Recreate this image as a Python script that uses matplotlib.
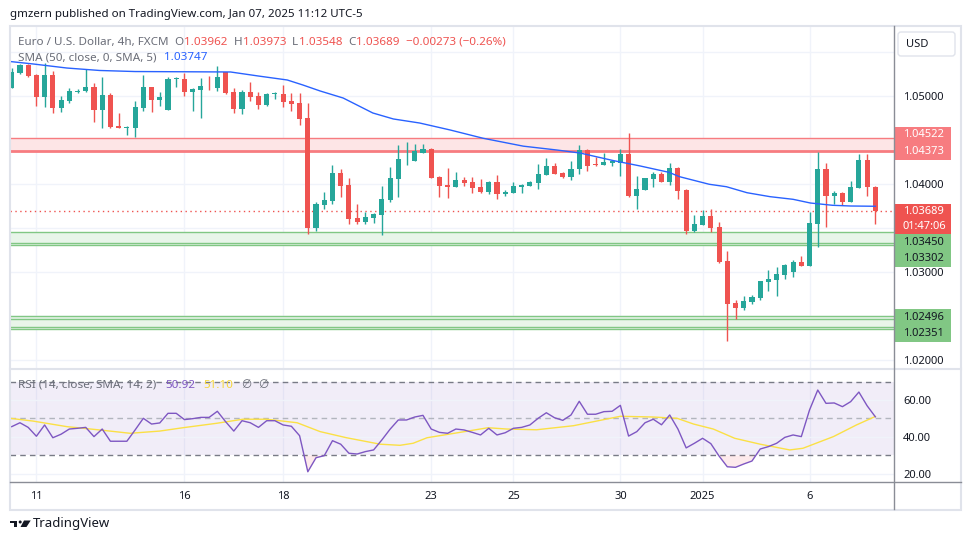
import numpy as np
import matplotlib.pyplot as plt
from matplotlib.patches import Rectangle, FancyBboxPatch, Polygon, Circle

plt.rcParams['font.family'] = ['Noto Sans', 'DejaVu Sans']

# EUR/USD 4h candles, Dec 11 2024 -> Jan 7 2025
opens = [
    1.05094, 1.05258, 1.05352, 1.05239, 1.04992, 1.05239, 1.04867, 1.04943, 1.05051, 1.05060,
    1.05099, 1.04841, 1.05011, 1.04659, 1.04640, 1.04640, 1.04864, 1.05099, 1.04955, 1.04841,
    1.05190, 1.05193, 1.05049, 1.05068, 1.05114, 1.05088, 1.05269, 1.05042, 1.04852, 1.05042,
    1.05000, 1.04898, 1.05019, 1.05023, 1.04943, 1.04920, 1.04750, 1.03503, 1.03765, 1.03810,
    1.04122, 1.03985, 1.03614, 1.03572, 1.03617, 1.03651, 1.03818, 1.04060, 1.04290, 1.04265,
    1.04356, 1.04394, 1.04080, 1.03989, 1.03969, 1.04045, 1.04023, 1.03962, 1.03912, 1.04023,
    1.03883, 1.03901, 1.03969, 1.03981, 1.04015, 1.04102, 1.04205, 1.04128, 1.04083, 1.04167,
    1.04386, 1.04219, 1.04219, 1.04244, 1.04235, 1.04341, 1.03864, 1.03935, 1.04057, 1.04114,
    1.04026, 1.04182, 1.03932, 1.03466, 1.03537, 1.03636, 1.03511, 1.03125, 1.02648, 1.02594,
    1.02662, 1.02708, 1.02890, 1.02912, 1.02969, 1.03003, 1.03114, 1.03072, 1.03549, 1.04170,
    1.03867, 1.03898, 1.03799, 1.03958, 1.04273, 1.03962]
highs = [
    1.05315, 1.05364, 1.05364, 1.05250, 1.05378, 1.05288, 1.05000, 1.05088, 1.05076, 1.05303,
    1.05151, 1.05219, 1.05031, 1.04810, 1.04659, 1.04943, 1.05239, 1.05102, 1.05042, 1.05213,
    1.05213, 1.05258, 1.05091, 1.05208, 1.05231, 1.05341, 1.05273, 1.05088, 1.05068, 1.05156,
    1.05042, 1.05031, 1.05049, 1.05125, 1.05031, 1.05031, 1.04920, 1.03799, 1.03909, 1.04216,
    1.04167, 1.04065, 1.03773, 1.03685, 1.03665, 1.03977, 1.04190, 1.04443, 1.04477, 1.04455,
    1.04455, 1.04412, 1.04091, 1.04178, 1.04136, 1.04080, 1.04080, 1.04057, 1.04034, 1.04102,
    1.03928, 1.04023, 1.03997, 1.04034, 1.04227, 1.04295, 1.04239, 1.04140, 1.04261, 1.04447,
    1.04394, 1.04307, 1.04352, 1.04273, 1.04398, 1.04580, 1.04091, 1.04068, 1.04133, 1.04140,
    1.04242, 1.04197, 1.03943, 1.03648, 1.03705, 1.03716, 1.03568, 1.03239, 1.02682, 1.02731,
    1.02739, 1.02800, 1.03023, 1.03057, 1.03091, 1.03136, 1.03182, 1.03682, 1.04360, 1.04239,
    1.03920, 1.03912, 1.04034, 1.04341, 1.04341, 1.03973]
lows = [
    1.05088, 1.05250, 1.05213, 1.04886, 1.04878, 1.04810, 1.04822, 1.04917, 1.05031, 1.05042,
    1.04701, 1.04640, 1.04633, 1.04636, 1.04560, 1.04534, 1.04826, 1.04822, 1.04890, 1.04841,
    1.05106, 1.05000, 1.04830, 1.04753, 1.05068, 1.05060, 1.05019, 1.04810, 1.04799, 1.04947,
    1.04852, 1.04886, 1.04962, 1.04878, 1.04830, 1.04670, 1.03432, 1.03469, 1.03719, 1.03776,
    1.03856, 1.03545, 1.03545, 1.03545, 1.03560, 1.03424, 1.03799, 1.03856, 1.04219, 1.04265,
    1.04356, 1.04072, 1.03856, 1.03844, 1.03969, 1.03981, 1.03894, 1.03901, 1.03890, 1.03833,
    1.03867, 1.03901, 1.03901, 1.03977, 1.03947, 1.04102, 1.04114, 1.04068, 1.04045, 1.04114,
    1.04151, 1.04208, 1.04219, 1.04208, 1.04094, 1.03852, 1.03719, 1.03935, 1.03969, 1.04023,
    1.03989, 1.03830, 1.03435, 1.03455, 1.03537, 1.03455, 1.03106, 1.02219, 1.02466, 1.02571,
    1.02640, 1.02685, 1.02787, 1.02731, 1.02924, 1.02947, 1.03072, 1.03072, 1.03287, 1.03515,
    1.03776, 1.03765, 1.03799, 1.03958, 1.03867, 1.03548]
closes = [
    1.05276, 1.05352, 1.05231, 1.04992, 1.05239, 1.04867, 1.04951, 1.05057, 1.05057, 1.05099,
    1.04841, 1.05011, 1.04644, 1.04640, 1.04644, 1.04872, 1.05099, 1.04955, 1.04985, 1.05193,
    1.05193, 1.05049, 1.05080, 1.05117, 1.05108, 1.05213, 1.05031, 1.04852, 1.05042, 1.04992,
    1.04901, 1.05023, 1.05023, 1.04935, 1.04912, 1.04739, 1.03503, 1.03773, 1.03818, 1.04122,
    1.03981, 1.03606, 1.03568, 1.03625, 1.03659, 1.03829, 1.04068, 1.04284, 1.04292, 1.04372,
    1.04394, 1.04072, 1.03981, 1.03969, 1.04045, 1.04014, 1.03958, 1.03912, 1.04023, 1.03883,
    1.03909, 1.03977, 1.03989, 1.04023, 1.04114, 1.04205, 1.04114, 1.04083, 1.04170, 1.04386,
    1.04205, 1.04212, 1.04253, 1.04256, 1.04341, 1.03864, 1.03943, 1.04068, 1.04110, 1.04023,
    1.04182, 1.03920, 1.03469, 1.03545, 1.03636, 1.03503, 1.03114, 1.02640, 1.02594, 1.02670,
    1.02716, 1.02898, 1.02920, 1.02977, 1.03080, 1.03114, 1.03072, 1.03557, 1.04170, 1.03867,
    1.03898, 1.03799, 1.03966, 1.04273, 1.03962, 1.03689]

# SMA(50) read at a few candle positions
sma_idx = [-0.2, 2.6, 6.7, 10.7, 15.0, 26.6, 30.0, 33.5, 35.4, 37.5, 40.3, 43.9, 46.4, 49.6,
           53.3, 57.3, 62.2, 66.3, 69.1, 73.1, 76.4, 79.9, 81.2, 84.8, 86.9, 89.4, 92.2, 95.0,
           97.1, 99.8, 102.0, 105]
sma_val = [1.05392, 1.05364, 1.05318, 1.05290, 1.05278, 1.05273, 1.05227, 1.05182, 1.05125,
           1.05057, 1.04977, 1.04807, 1.04739, 1.04693, 1.04614, 1.04520, 1.04430, 1.04386,
           1.04352, 1.04267, 1.04205, 1.04133, 1.04083, 1.03997, 1.03969, 1.03901, 1.03856,
           1.03826, 1.03784, 1.03758, 1.03750, 1.03747]

rsi = [
    45.6, 47.7, 45.2, 40.4, 46.5, 39.6, 41.5, 44.3, 44.7, 45.2,
    40.2, 44.3, 37.7, 37.7, 37.7, 43.8, 50.1, 47.0, 47.6, 52.8,
    52.8, 49.4, 49.9, 50.6, 50.6, 53.9, 48.3, 43.2, 48.8, 47.7,
    45.2, 48.8, 48.8, 46.5, 45.8, 40.7, 21.2, 28.8, 29.9, 38.0,
    36.1, 31.2, 30.8, 32.1, 33.0, 38.4, 44.2, 49.2, 49.2, 50.8,
    51.7, 44.3, 42.5, 42.0, 44.3, 43.8, 42.5, 41.1, 44.7, 41.1,
    42.3, 44.7, 45.2, 46.5, 50.1, 53.1, 50.4, 49.0, 51.9, 59.3,
    52.3, 52.3, 53.7, 53.9, 57.1, 40.5, 42.9, 47.7, 49.6, 46.6,
    51.9, 44.3, 34.1, 36.6, 39.3, 36.4, 29.7, 23.9, 23.6, 25.4,
    27.0, 33.5, 34.8, 36.6, 39.8, 41.1, 40.2, 54.6, 65.4, 58.2,
    58.4, 56.4, 59.1, 64.3, 56.9, 50.92]

rsi_sma_idx = [-0.2, 2.6, 6.7, 10.7, 14.4, 18.0, 20.8, 24.9, 28.1, 31.0, 34.7, 37.5, 40.7,
               44.8, 47.2, 48.8, 50.5, 54.5, 57.9, 60.2, 63.8, 68.3, 71.1, 74.0, 78.0, 80.9,
               82.9, 85.3, 87.9, 91.0, 94.6, 96.2, 99.9, 102.7, 105]
rsi_sma_val = [50.1, 48.6, 45.6, 43.8, 42.0, 43.2, 45.0, 47.4, 49.6, 49.6, 47.7, 42.9, 39.6,
               36.1, 35.5, 36.6, 39.6, 42.5, 45.0, 44.3, 43.9, 46.1, 48.6, 51.2, 50.8, 50.1,
               47.0, 44.3, 39.3, 36.1, 33.0, 33.9, 40.2, 46.5, 51.10]

day_ticks = [3, 21, 33, 51, 61, 74, 84, 97]
day_labels = ['11', '16', '18', '23', '25', '30', '2025', '6']
price_ticks = [1.02, 1.03, 1.04, 1.05]
rsi_ticks = [20, 40, 60]

# drawn zones (top, bottom) + the extra edge lines of the stacked boxes
zones = [(1.04522, 1.04373), (1.03450, 1.03302), (1.02496, 1.02351)]
zone_inner = [1.03326, 1.02465, 1.02370]
countdown = '01:47:06'

GREEN = '#26a69a'
RED = '#ef5350'
TXT = '#131722'
GRAY = '#6a6d78'
GRID = '#f0f3fa'

W, H = 970, 545
fig = plt.figure(figsize=(W / 100, H / 100), dpi=100)


def box(l, t, r, b):
    return [l / W, 1 - b / H, (r - l) / W, (b - t) / H]


ax = fig.add_axes(box(10, 26, 894, 369.3))
ax_rsi = fig.add_axes(box(10, 369.3, 894, 482.3), sharex=ax)
over = fig.add_axes([0, 0, 1, 1], zorder=10)
over.set_xlim(0, W)
over.set_ylim(H, 0)
over.axis('off')
over.patch.set_alpha(0)

o = np.array(opens)
h = np.array(highs)
l = np.array(lows)
c = np.array(closes)
x = np.arange(len(c))

# ---------------- price pane
ax.set_xlim(-0.21, 107.27)
ax.set_ylim(1.018943, 1.057955)
for p in np.arange(1.020, 1.0551, 0.005):
    ax.axhline(p, color=GRID, lw=1, zorder=0)
for t in day_ticks:
    ax.axvline(t, color=GRID, lw=1, zorder=0)
    ax_rsi.axvline(t, color=GRID, lw=1, zorder=0)

zone_line = ['#f77c80', '#81c784', '#81c784']
zone_fill = ['#fde5e6', '#e8f5e9', '#e8f5e9']
for (top, bot), lc, fc in zip(zones, zone_line, zone_fill):
    ax.axhspan(bot, top, color=fc, lw=0, zorder=1)
    ax.axhline(top, color=lc, lw=1, zorder=2)
    ax.axhline(bot, color=lc, lw=2 if lc == '#f77c80' else 1, zorder=2)
for p in zone_inner:
    ax.axhline(p, color='#81c784', lw=1, zorder=2)

ax.axhline(c[-1], color=RED, lw=1, ls=(0, (1, 2.5)), zorder=2)

col = np.where(c >= o, GREEN, RED)
ax.vlines(x, l, h, colors=col, lw=1, zorder=3)
ax.bar(x, np.maximum(np.abs(c - o), 0.00011), bottom=np.minimum(o, c), width=0.62,
       color=col, lw=0, zorder=4)
ax.plot(sma_idx, sma_val, color='#2962ff', lw=1, zorder=5)

ax.yaxis.tick_right()
ax.set_yticks(price_ticks)
ax.set_yticklabels([f'{p:.5f}' for p in price_ticks])
ax.tick_params(axis='y', length=0, pad=6.5, labelsize=8, labelcolor=TXT)
ax.tick_params(axis='x', bottom=False, labelbottom=False)
for s in ax.spines.values():
    s.set_visible(False)

# ---------------- RSI pane
rsi_a = np.array(rsi)
ax_rsi.set_ylim(15.5, 76.6)
ax_rsi.axhspan(30, 70, color='#7e57c2', alpha=0.1, lw=0, zorder=0)
for v in rsi_ticks:
    ax_rsi.axhline(v, color=GRID, lw=1, zorder=0)
ax_rsi.axhline(70, color='#787b86', lw=1, ls=(0, (4, 3)), zorder=1)
ax_rsi.axhline(30, color='#787b86', lw=1, ls=(0, (4, 3)), zorder=1)
ax_rsi.axhline(50, color='#b2b5be', lw=1, ls=(0, (4, 3)), zorder=1)
ax_rsi.fill_between(x, rsi_a, 30, where=rsi_a < 30, interpolate=True,
                    color='#f23645', alpha=0.1, lw=0, zorder=1)
ax_rsi.plot(rsi_sma_idx, rsi_sma_val, color='#fbe045', lw=1, zorder=2)
ax_rsi.plot(x, rsi_a, color='#7e57c2', lw=1, zorder=3)

ax_rsi.yaxis.tick_right()
ax_rsi.set_yticks(rsi_ticks)
ax_rsi.set_yticklabels([f'{v:.2f}' for v in rsi_ticks])
ax_rsi.set_xticks(day_ticks)
ax_rsi.set_xticklabels(day_labels)
ax_rsi.tick_params(axis='y', length=0, pad=6.5, labelsize=8, labelcolor=TXT)
ax_rsi.tick_params(axis='x', length=0, pad=6, labelsize=8, labelcolor=TXT)
for lbl in ax_rsi.get_xticklabels():
    if lbl.get_text() == '2025':
        lbl.set_fontweight('bold')
for s in ax_rsi.spines.values():
    s.set_visible(False)

# ---------------- frame / separators
over.add_patch(Rectangle((10, 26), 951, 483.5, fill=False, ec='#e0e3eb', lw=1.5))
over.plot([10, 961], [369.3, 369.3], color='#e0e3eb', lw=1.5)
over.plot([894.5, 894.5], [26, 509], color='#8a8d96', lw=1)
over.plot([10, 961], [482.3, 482.3], color='#8a8d96', lw=1)

# ---------------- header texts (placed one after another)
fig.canvas.draw()
rend = fig.canvas.get_renderer()


def chain(parts, x0, y, size):
    xx = x0
    for s, gap, cl in parts:
        xx += gap
        t = over.text(xx, y, s, color=cl, fontsize=size, va='center')
        xx = t.get_window_extent(renderer=rend).x1


over.text(10, 14, 'gmzern published on TradingView.com, Jan 07, 2025 11:12 UTC-5',
          color=TXT, fontsize=8.3, va='center')
chg = c[-1] - c[-2]
chain([('Euro / U.S. Dollar, 4h, FXCM', 0, GRAY),
       ('O', 6, GRAY), (f'{o[-1]:.5f}', 0.5, RED),
       ('H', 6, GRAY), (f'{h[-1]:.5f}', 0.5, RED),
       ('L', 6, GRAY), (f'{l[-1]:.5f}', 0.5, RED),
       ('C', 6, GRAY), (f'{c[-1]:.5f}', 0.5, RED),
       (f'\u2212{abs(chg):.5f} (\u2212{abs(chg) / c[-2] * 100:.2f}%)', 6, RED)],
      18, 42.5, 8.4)
chain([('SMA (50, close, 0, SMA, 5)', 0, GRAY), (f'{sma_val[-1]:.5f}', 8, '#2962ff')],
      18, 58, 8.4)
chain([('RSI (14, close, SMA, 14, 2)', 0, GRAY), (f'{rsi[-1]:.2f}', 9, '#7e57c2'),
       (f'{rsi_sma_val[-1]:.2f}', 8, '#f5d63a'), ('\u2205', 8, GRAY), ('\u2205', 7, GRAY)],
      18, 385, 8.4)

# USD box
over.add_patch(FancyBboxPatch((898, 32), 57, 24, boxstyle='round,pad=0,rounding_size=3',
                              fc='white', ec='#e0e3eb', lw=1))
over.text(906, 44.5, 'USD', color=TXT, fontsize=8, va='center')


# ---------------- price labels on the axis
def py(price):
    return H - ax.transData.transform((0, price))[1]


label_groups = [
    ([f'{zones[0][0]:.5f}', f'{zones[0][1]:.5f}'], zones[0][0], '#f77c80', 'white', -3.2, 16.5),
    ([f'{c[-1]:.5f}', countdown], c[-1], RED, 'white', 0, 15),
    ([f'{zones[1][0]:.5f}', f'{zones[1][1]:.5f}'], zones[1][0], '#81c784', TXT, 10, 16.5),
    ([f'{zones[2][0]:.5f}', f'{zones[2][1]:.5f}'], zones[2][0], '#81c784', TXT, 1, 16.5),
]
for texts, anchor, fc, tc, shift, step in label_groups:
    y0 = py(anchor) + shift
    over.add_patch(Rectangle((895, y0 - step / 2), 56, step * len(texts), fc=fc, ec='none'))
    for k, s in enumerate(texts):
        over.text(903, y0 + k * step, s, color=tc, fontsize=8, va='center')

# ---------------- TradingView logo
over.add_patch(Polygon([(10, 520.5), (17.5, 520.5), (17.5, 527), (13.6, 527), (13.6, 523.2),
                        (10, 523.2)], closed=True, fc=TXT, ec='none'))
over.add_patch(Circle((20.2, 522), 1.5, fc=TXT, ec='none'))
over.add_patch(Polygon([(24, 520.5), (30.7, 520.5), (26.5, 527), (20.5, 527)], closed=True,
                       fc=TXT, ec='none'))
over.text(33, 524, 'TradingView', color=TXT, fontsize=9.5, va='center')

fig.savefig('out.png', dpi=100)
